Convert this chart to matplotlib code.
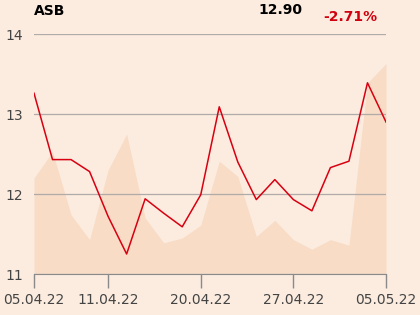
import matplotlib
matplotlib.use("Agg")
import matplotlib.pyplot as plt

# dados
precos = [13.26, 12.43, 12.43, 12.28, 11.72, 11.25, 11.94, 11.76, 11.59, 11.99,
          13.09, 12.40, 11.93, 12.18, 11.93, 11.79, 12.33, 12.41, 13.39, 12.90]
volume = [12.20, 12.53, 11.74, 11.43, 12.30, 12.75, 11.70, 11.39, 11.45, 11.61,
          12.41, 12.22, 11.47, 11.67, 11.43, 11.31, 11.43, 11.36, 13.39, 13.63]
tick_pos = [0, 4, 9, 14, 19]
tick_labels = ["05.04.22", "11.04.22", "20.04.22", "27.04.22", "05.05.22"]
y_ticks = [11, 12, 13, 14]

fundo = "#FBECDF"
x = list(range(len(precos)))

fig = plt.figure(figsize=(4.2, 3.15), dpi=100, facecolor=fundo)
ax = fig.add_axes([34/420, 41/315, 352/420, 240/315])
ax.set_facecolor(fundo)

ax.fill_between(x, 11, volume, color="#F8DCC6", linewidth=0, zorder=1)
ax.plot(x, precos, color="#D80011", linewidth=1.1, zorder=3)

ax.set_xlim(0, 19)
ax.set_ylim(11, 14)
ax.set_yticks(y_ticks)
ax.set_yticklabels([str(v) for v in y_ticks])
ax.set_xticks(tick_pos)
ax.set_xticklabels(tick_labels)
ax.grid(axis="y", color="#B0ABA8", linewidth=0.9, zorder=2)
ax.set_axisbelow(False)

for s in ["top", "right", "left"]:
    ax.spines[s].set_visible(False)
ax.spines["bottom"].set_color("#8A8A8A")
ax.tick_params(axis="y", length=0, pad=8, labelsize=10, labelcolor="#444444")
ax.tick_params(axis="x", length=10, width=1, color="#8A8A8A", pad=4,
               labelsize=10, labelcolor="#444444")

fig.text(34/420, 1 - 11/315, "ASB", fontsize=10, fontweight="bold", va="center", ha="left")
fig.text(302/420, 1 - 10/315, "12.90", fontsize=10, fontweight="bold", va="center", ha="right")
fig.text(377/420, 1 - 17/315, "-2.71%", fontsize=10, fontweight="bold", va="center",
         ha="right", color="#D0000E")

fig.savefig("out.png", dpi=100, facecolor=fundo)
